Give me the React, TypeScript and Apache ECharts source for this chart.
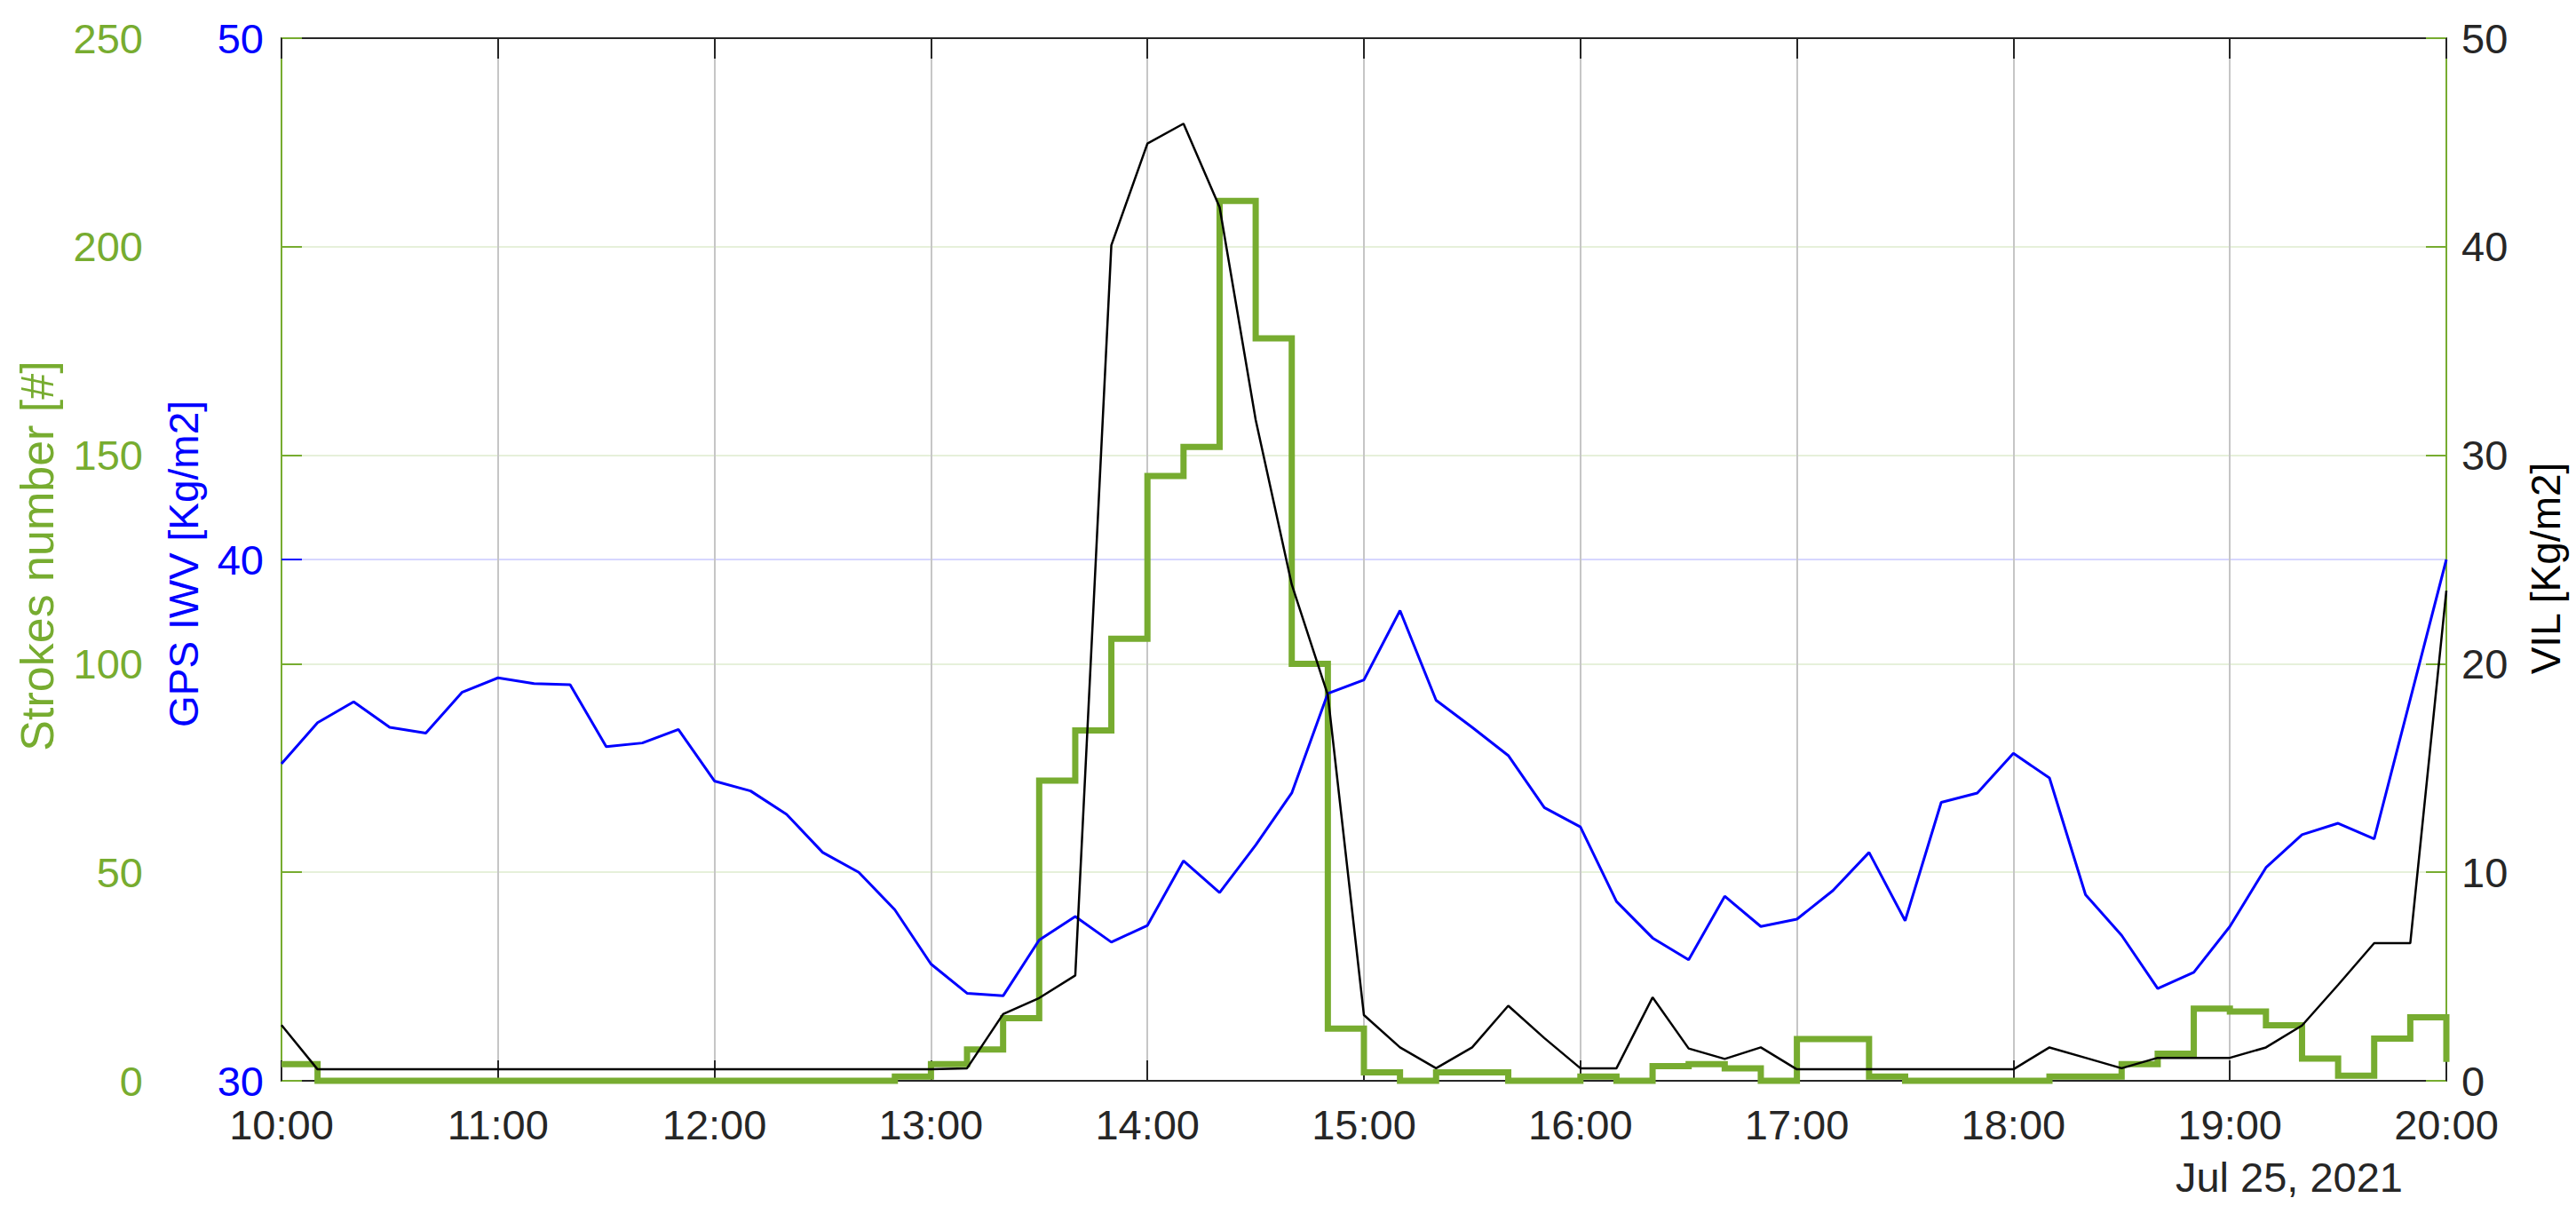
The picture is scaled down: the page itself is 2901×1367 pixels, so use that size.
import React, { useEffect, useRef } from "react";
import * as echarts from "echarts";

const timeLabels = [
  "10:00", "10:10", "10:20", "10:30", "10:40", "10:50",
  "11:00", "11:10", "11:20", "11:30", "11:40", "11:50",
  "12:00", "12:10", "12:20", "12:30", "12:40", "12:50",
  "13:00", "13:10", "13:20", "13:30", "13:40", "13:50",
  "14:00", "14:10", "14:20", "14:30", "14:40", "14:50",
  "15:00", "15:10", "15:20", "15:30", "15:40", "15:50",
  "16:00", "16:10", "16:20", "16:30", "16:40", "16:50",
  "17:00", "17:10", "17:20", "17:30", "17:40", "17:50",
  "18:00", "18:10", "18:20", "18:30", "18:40", "18:50",
  "19:00", "19:10", "19:20", "19:30", "19:40", "19:50",
  "20:00",
];

const hourLabels = ["10:00", "11:00", "12:00", "13:00", "14:00", "15:00", "16:00", "17:00", "18:00", "19:00", "20:00"];

// GPS IWV [Kg/m2]
const iwv = [
  36.08, 36.87, 37.27, 36.78, 36.67, 37.45,
  37.73, 37.62, 37.6, 36.41, 36.48, 36.74,
  35.75, 35.56, 35.11, 34.38, 34.0, 33.28,
  32.24, 31.68, 31.63, 32.7, 33.15, 32.66,
  32.98, 34.22, 33.61, 34.52, 35.52, 37.43,
  37.69, 39.02, 37.3, 36.78, 36.24, 35.24,
  34.87, 33.44, 32.74, 32.32, 33.54, 32.96,
  33.1, 33.65, 34.38, 33.07, 35.34, 35.52,
  36.28, 35.81, 33.57, 32.79, 31.77, 32.08,
  32.96, 34.09, 34.72, 34.94, 34.64, 37.32,
  40.0,
];

// VIL [Kg/m2]
const vil = [
  2.67, 0.55, 0.55, 0.55, 0.55, 0.55,
  0.55, 0.55, 0.55, 0.55, 0.55, 0.55,
  0.55, 0.55, 0.55, 0.55, 0.55, 0.55,
  0.55, 0.6, 3.2, 3.97, 5.05, 40.07,
  44.95, 45.9, 41.9, 31.7, 23.8, 18.5,
  3.15, 1.6, 0.6, 1.6, 3.6, 2.05,
  0.6, 0.6, 4.0, 1.55, 1.05, 1.6,
  0.55, 0.55, 0.55, 0.55, 0.55, 0.55,
  0.55, 1.6, 1.1, 0.6, 1.1, 1.1,
  1.1, 1.6, 2.65, 4.6, 6.6, 6.6,
  23.5,
];

// Strokes number [#] per 10 minutes
const strokes = [
  4, 0, 0, 0, 0, 0,
  0, 0, 0, 0, 0, 0,
  0, 0, 0, 0, 0, 1,
  4, 7.5, 15, 72, 84, 106,
  145, 152, 211, 178, 100, 12.5,
  2, 0, 2, 2, 0, 0,
  1, 0, 3.5, 4, 3, 0,
  10, 10, 1, 0, 0, 0,
  0, 1, 1, 4, 6.5, 17.3,
  16.6, 13.3, 5.3, 1.2, 10.1, 15.2,
  4.5,
];

const dateLabel = "Jul 25, 2021";

const FONT = "'Liberation Sans', Arial, Helvetica, sans-serif";
const GREEN = "#77AC30";
const BLUE = "#0000FF";
const DARK = "#262626";

const toMin = (t: string) => {
  const [h, m] = t.split(":").map(Number);
  return h * 60 + m;
};

const pts = (arr: number[]) => timeLabels.map((t, i) => [toMin(t), arr[i]]);

const X_MIN = toMin(hourLabels[0]);
const X_MAX = toMin(hourLabels[hourLabels.length - 1]);

export default function App() {
  const ref = useRef<HTMLDivElement>(null);

  useEffect(() => {
    if (!ref.current) return;
    const chart = echarts.init(ref.current, undefined, { renderer: "svg" });

    const baseX = {
      type: "value" as const,
      min: X_MIN,
      max: X_MAX,
      interval: 60,
    };

    const option: any = {
      animation: false,
      backgroundColor: "#ffffff",
      textStyle: { fontFamily: FONT },
      grid: { left: 317, right: 146, top: 43, bottom: 150, containLabel: false },
      xAxis: [
        {
          ...baseX,
          position: "bottom",
          axisLine: { show: true, onZero: false, lineStyle: { color: DARK, width: 2 } },
          axisTick: { show: true, inside: true, length: 23, lineStyle: { color: DARK, width: 2 } },
          axisLabel: {
            margin: 31,
            fontSize: 47,
            lineHeight: 36,
            color: DARK,
            fontFamily: FONT,
            formatter: (v: number) => hourLabels[Math.round((v - X_MIN) / 60)] ?? "",
          },
          splitLine: { show: true, lineStyle: { color: "#c6c6c6", width: 2 } },
        },
        {
          ...baseX,
          position: "top",
          axisLine: { show: true, onZero: false, lineStyle: { color: DARK, width: 2 } },
          axisTick: { show: true, inside: true, length: 23, lineStyle: { color: DARK, width: 2 } },
          axisLabel: { show: false },
          splitLine: { show: false },
        },
      ],
      yAxis: [
        {
          type: "value",
          min: 30,
          max: 50,
          interval: 10,
          position: "left",
          axisLine: { show: true, onZero: false, lineStyle: { color: GREEN, width: 2 } },
          axisTick: { show: true, inside: true, length: 23, lineStyle: { color: BLUE, width: 2 } },
          axisLabel: { margin: 20, fontSize: 47, lineHeight: 36, color: BLUE, fontFamily: FONT },
          splitLine: { show: true, lineStyle: { color: "rgba(0,0,255,0.16)", width: 2 } },
        },
        {
          type: "value",
          min: 0,
          max: 250,
          interval: 50,
          position: "left",
          axisLine: { show: true, onZero: false, lineStyle: { color: GREEN, width: 2 } },
          axisTick: { show: true, inside: true, length: 23, lineStyle: { color: GREEN, width: 2 } },
          axisLabel: { margin: 156, fontSize: 47, lineHeight: 36, color: GREEN, fontFamily: FONT },
          splitLine: { show: true, lineStyle: { color: "rgba(119,172,48,0.18)", width: 2 } },
        },
        {
          type: "value",
          min: 0,
          max: 50,
          interval: 10,
          position: "right",
          axisLine: { show: true, onZero: false, lineStyle: { color: GREEN, width: 2 } },
          axisTick: { show: true, inside: true, length: 23, lineStyle: { color: GREEN, width: 2 } },
          axisLabel: { margin: 17, fontSize: 47, lineHeight: 34, color: DARK, fontFamily: FONT },
          splitLine: { show: false },
        },
      ],
      series: [
        {
          name: "Strokes number",
          type: "line",
          yAxisIndex: 1,
          step: "end",
          data: pts(strokes),
          symbol: "none",
          clip: false,
          z: 2,
          lineStyle: { color: GREEN, width: 7, join: "miter" },
        },
        {
          name: "GPS IWV",
          type: "line",
          yAxisIndex: 0,
          data: pts(iwv),
          symbol: "none",
          clip: false,
          z: 3,
          lineStyle: { color: BLUE, width: 3 },
        },
        {
          name: "VIL",
          type: "line",
          yAxisIndex: 2,
          data: pts(vil),
          symbol: "none",
          clip: false,
          z: 4,
          lineStyle: { color: "#000000", width: 2.5 },
        },
      ],
      graphic: [
        {
          type: "text",
          x: 42,
          y: 626,
          rotation: Math.PI / 2,
          style: {
            text: "Strokes number [#]",
            fill: GREEN,
            fontSize: 52,
            fontFamily: FONT,
            align: "center",
            verticalAlign: "middle",
            textAlign: "center",
            textVerticalAlign: "middle",
          },
        },
        {
          type: "text",
          x: 207,
          y: 635,
          rotation: Math.PI / 2,
          style: {
            text: "GPS IWV [Kg/m2]",
            fill: BLUE,
            fontSize: 46,
            fontFamily: FONT,
            align: "center",
            verticalAlign: "middle",
            textAlign: "center",
            textVerticalAlign: "middle",
          },
        },
        {
          type: "text",
          x: 2867,
          y: 640,
          rotation: Math.PI / 2,
          style: {
            text: "VIL [Kg/m2]",
            fill: "#000000",
            fontSize: 46,
            fontFamily: FONT,
            align: "center",
            verticalAlign: "middle",
            textAlign: "center",
            textVerticalAlign: "middle",
          },
        },
        {
          type: "text",
          x: 2706,
          y: 1325,
          style: {
            text: dateLabel,
            fill: DARK,
            fontSize: 47,
            fontFamily: FONT,
            align: "right",
            verticalAlign: "middle",
            textAlign: "right",
            textVerticalAlign: "middle",
          },
        },
      ],
    };

    chart.setOption(option);
    return () => chart.dispose();
  }, []);

  return (
    <div
      ref={ref}
      style={{ position: "absolute", left: 0, top: 0, width: 2901, height: 1367, background: "#ffffff" }}
    />
  );
}
